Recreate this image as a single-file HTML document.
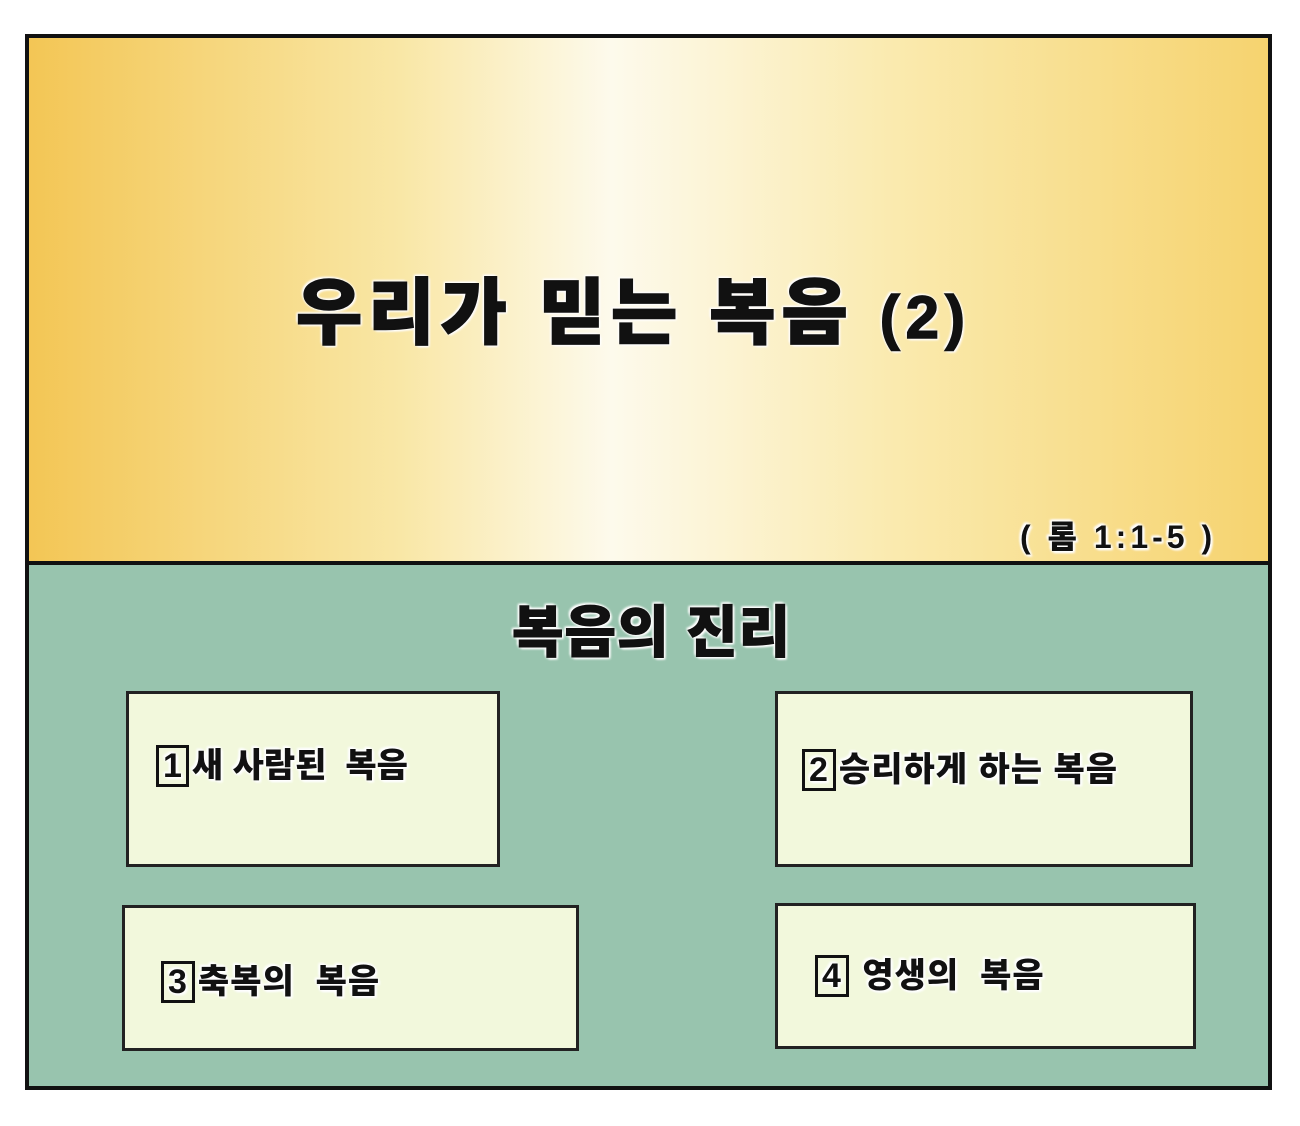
<!DOCTYPE html>
<html><head><meta charset="utf-8"><style>
body{margin:0;width:1300px;height:1126px;background:#fff;position:relative;overflow:hidden;font-family:"Liberation Sans","Noto Sans CJK KR",sans-serif;}
.frame{position:absolute;left:25px;top:34px;width:1239px;height:1048px;border:4px solid #111;}
.top{position:absolute;left:0;top:0;width:1239px;height:523px;background:linear-gradient(90deg,#f3c655 0%,#f9e7a6 30%,#fdfaec 47%,#faeaae 70%,#f6d36f 100%);border-bottom:4px solid #111;}
.bot{position:absolute;left:0;top:527px;width:1239px;height:521px;background:#98c4ae;}
.t{position:absolute;font-weight:900;color:#111;white-space:nowrap;text-shadow:0 0 3px #fff,0 0 3px #fff,0 0 3px #fff,2px 2px 2px #fff,-2px -2px 2px #fff;}
.box{position:absolute;background:#f2f8dc;border:3px solid #222;}
.n{display:inline-block;border:3px solid #111;padding:0 4px;line-height:36px;margin-right:3px;font-weight:bold;}
</style></head><body>
<div class="frame">
<div class="top"></div>
<div class="bot"></div>
</div>
<div class="t" style="left:296px;top:254px;font-size:72px;letter-spacing:6px;-webkit-text-stroke:1.5px #111;">우리가 믿는 복음 <span style="font-size:60px">(2)</span></div>
<div class="t" style="left:1020px;top:512px;font-size:32px;letter-spacing:4px;">( 롬 1:1-5 )</div>
<div class="t" style="left:512px;top:588px;font-size:56px;letter-spacing:1px;-webkit-text-stroke:1px #111;">복음의 진리</div>
<div class="box" style="left:126px;top:691px;width:368px;height:170px;"></div>
<div class="box" style="left:775px;top:691px;width:412px;height:170px;"></div>
<div class="box" style="left:122px;top:905px;width:451px;height:140px;"></div>
<div class="box" style="left:775px;top:903px;width:415px;height:140px;"></div>
<div class="t" style="left:156px;top:738px;font-size:34px;"><span class="n">1</span>새 사람된 &nbsp;복음</div>
<div class="t" style="left:802px;top:742px;font-size:34px;letter-spacing:1px;"><span class="n">2</span>승리하게 하는 복음</div>
<div class="t" style="left:161px;top:954px;font-size:34px;letter-spacing:1px;"><span class="n">3</span>축복의 &nbsp;복음</div>
<div class="t" style="left:815px;top:948px;font-size:34px;letter-spacing:1px;"><span class="n">4</span> 영생의 &nbsp;복음</div>
</body></html>
